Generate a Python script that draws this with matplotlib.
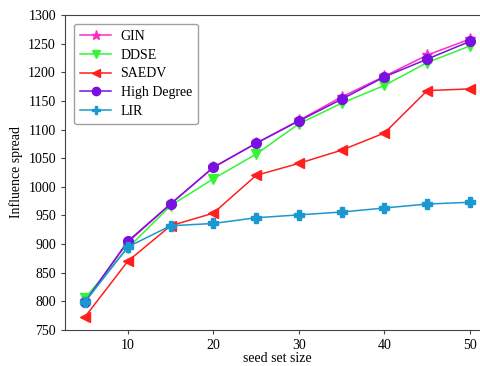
import matplotlib
matplotlib.use("Agg")
import matplotlib.pyplot as plt

x = [5, 10, 15, 20, 25, 30, 35, 40, 45, 50]
gin = [801, 903, 970, 1034, 1076, 1116, 1157, 1193, 1230, 1258]
ddse = [806, 893, 967, 1014, 1057, 1110, 1146, 1177, 1217, 1246]
saedv = [773, 870, 932, 954, 1020, 1041, 1064, 1094, 1168, 1171]
high_degree = [799, 905, 970, 1034, 1076, 1115, 1153, 1192, 1223, 1254]
lir = [799, 895, 932, 936, 946, 951, 956, 963, 970, 973]

yticks = [750, 800, 850, 900, 950, 1000, 1050, 1100, 1150, 1200, 1250, 1300]
xticks = [10, 20, 30, 40, 50]

plt.rcParams['font.family'] = ['Liberation Serif', 'DejaVu Serif']
plt.rcParams['font.size'] = 10

fig = plt.figure(figsize=(4.81, 3.66), dpi=100)
ax = fig.add_axes([65/481, 1-330/366, (490-65)/481, (330-15)/366])

series = [
    ("GIN", gin, "#ff2bc6", "*", 8),
    ("DDSE", ddse, "#33f533", "v", 7),
    ("SAEDV", saedv, "#ff1f1f", "<", 7),
    ("High Degree", high_degree, "#7a10e0", "o", 7),
    ("LIR", lir, "#1b98cf", "P", 7),
]
for name, vals, c, m, ms in series:
    ax.plot(x, vals, color=c, marker=m, markersize=ms, linewidth=1.1, label=name)

ax.set_xlim(2.66, 52.34)
ax.set_ylim(750, 1300)
ax.set_xticks(xticks)
ax.set_yticks(yticks)
ax.set_xlabel("seed set size", labelpad=0)
ax.set_ylabel("Influence spread", labelpad=4)
for s in ax.spines.values():
    s.set_color("#444444")
ax.tick_params(length=3, color="#444444")

leg = ax.legend(loc="upper left", bbox_to_anchor=(0.005, 0.995), frameon=True,
                fancybox=True, edgecolor="#888888", handlelength=2.2,
                borderpad=0.45, labelspacing=0.42, handletextpad=0.7,
                markerscale=0.85, fontsize=10)

fig.savefig("out.png", dpi=100)
